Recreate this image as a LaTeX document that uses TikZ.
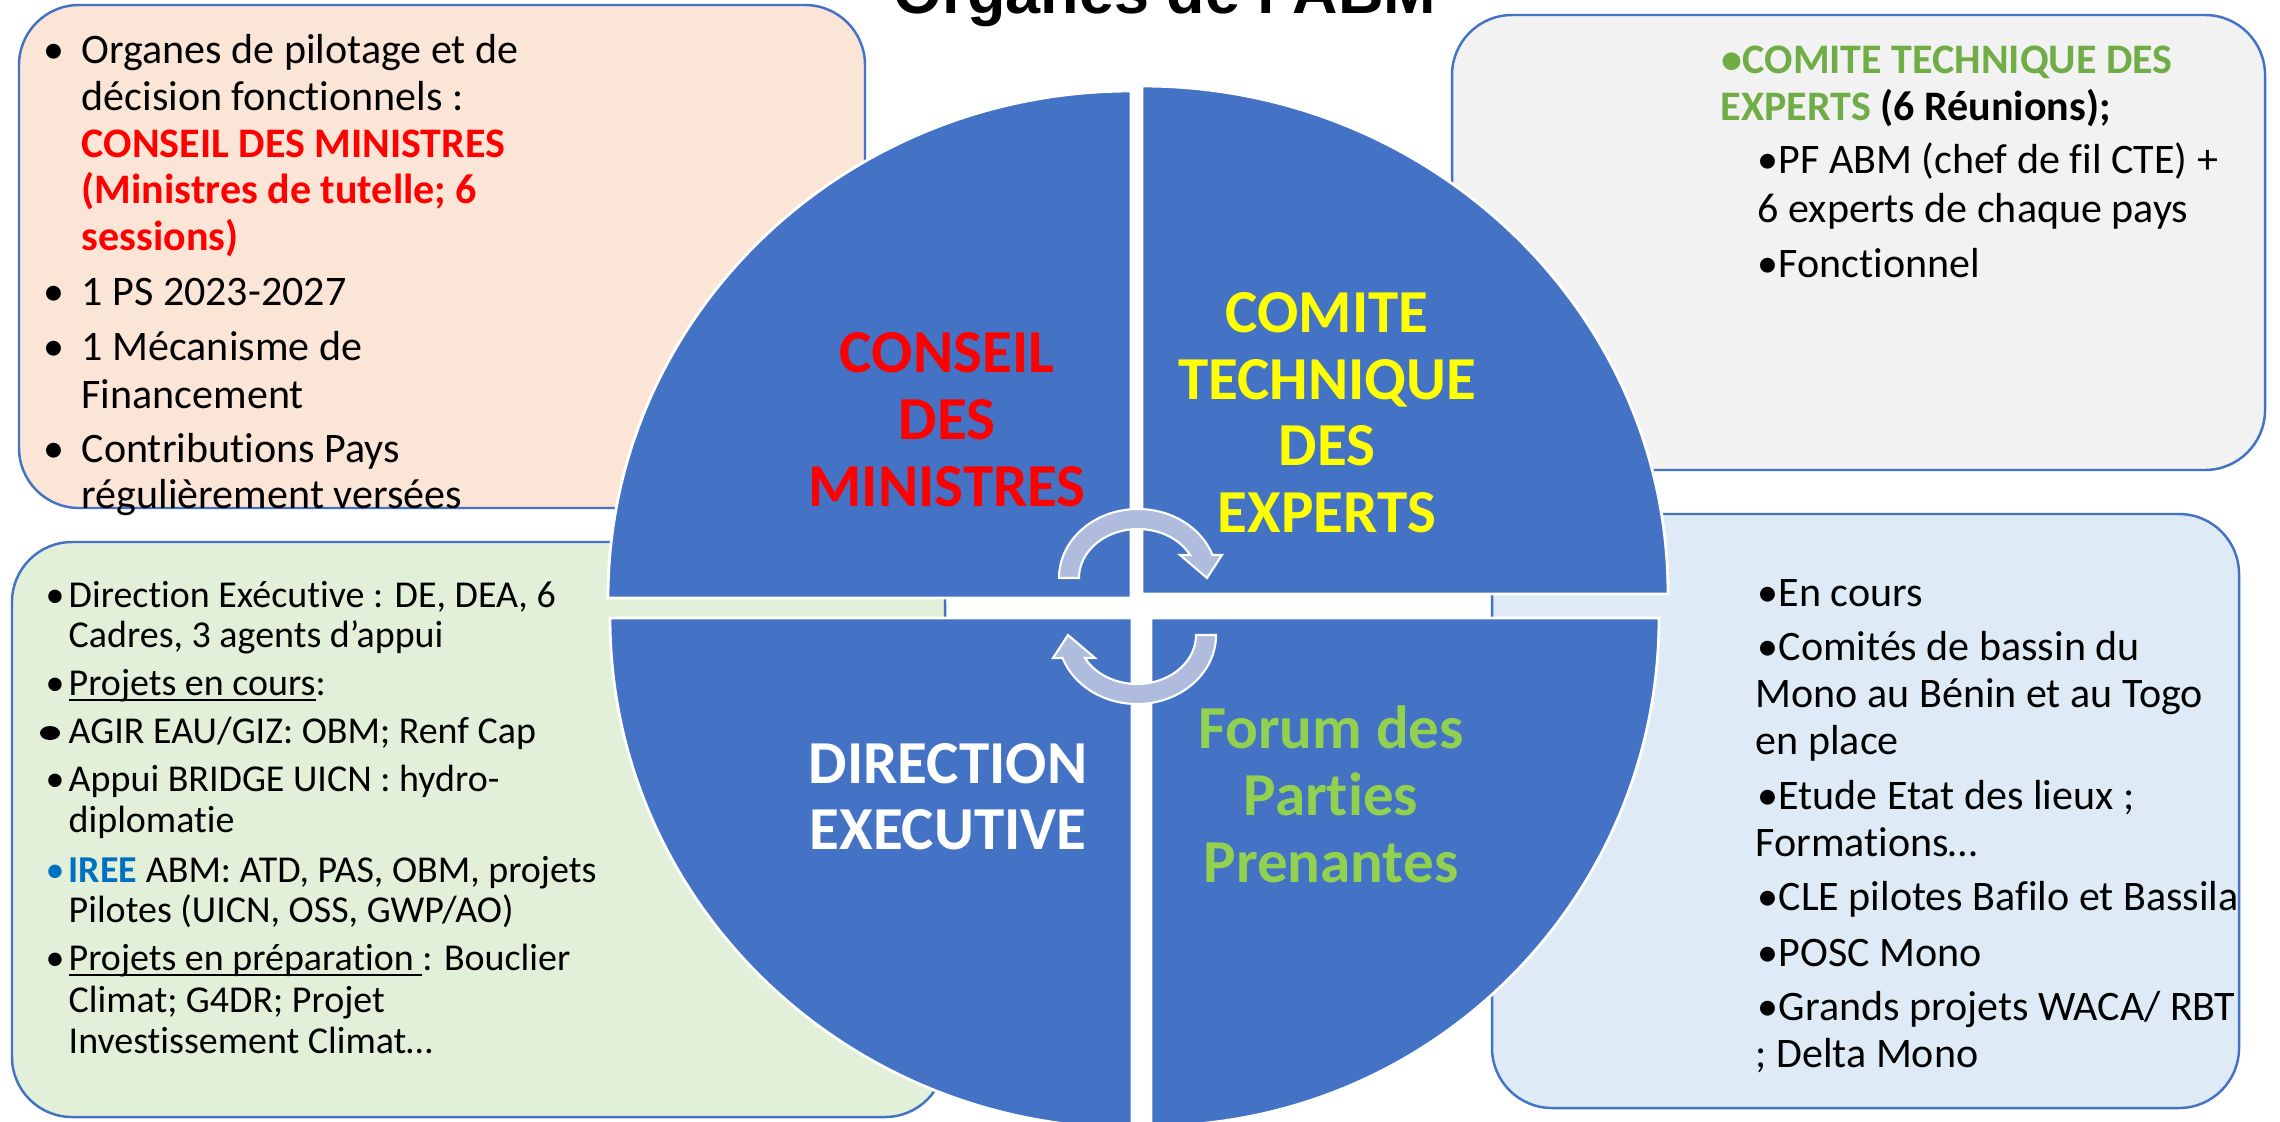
\documentclass[tikz,border=0pt]{standalone}
\usepackage{fontspec}
\setmainfont{Carlito}[Ligatures={NoCommon,NoContextual}]
\newfontfamily\titlefont{Liberation Sans}
\definecolor{quadblue}{HTML}{4472C4}
\definecolor{arrowfill}{RGB}{176,188,222}
\definecolor{boxline}{HTML}{4472C4}
\definecolor{peach}{HTML}{FBE5D6}
\definecolor{lgrey}{HTML}{F2F2F2}
\definecolor{lgreen}{HTML}{E2F0D9}
\definecolor{lblue}{HTML}{DEEBF7}
\definecolor{cteGreen}{HTML}{70AD47}
\definecolor{forumGreen}{HTML}{92D050}
\definecolor{ireeBlue}{HTML}{0070C0}
\definecolor{pureRed}{HTML}{FF0000}
\definecolor{pureYellow}{HTML}{FFFF00}
\newcommand\ulx[1]{\setbox0\hbox{#1}\rlap{\rule[-1.7pt]{\wd0}{0.55pt}}\box0}
\tikzset{
  infobox/.style={draw=boxline, line width=0.7pt, rounded corners=0.6cm},
  quad/.style={fill=quadblue, draw=white, line width=0.8pt},
  cyc/.style={fill=arrowfill, draw=white, line width=0.6pt},
  bigtxt/.style={anchor=base west, inner sep=0pt, font=\fontsize{11.95pt}{13pt}\selectfont},
  smalltxt/.style={anchor=base west, inner sep=0pt, font=\fontsize{10.8pt}{12pt}\selectfont},
  quadlbl/.style={anchor=base, inner sep=0pt, font=\bfseries\fontsize{17.36pt}{19pt}\selectfont},
}
\begin{document}
\begin{tikzpicture}[x=0.01cm,y=-0.01cm]
\clip (0,0) rectangle (2280,1121);
\fill[white] (0,0) rectangle (2280,1121);

% title (cut at the top)
\node[anchor=base, inner sep=0pt, font=\titlefont\bfseries\fontsize{17.9pt}{20pt}\selectfont] (title) at (1165,13) {Organes de l’ABM};

% info boxes
\draw[infobox, fill=peach] (19,5) rectangle (865,508);
\draw[infobox, fill=lgrey] (1452,15) rectangle (2265,470);
\draw[infobox, fill=lgreen] (12,542) rectangle (945,1117);
\draw[infobox, fill=lblue] (1492,514) rectangle (2239,1108);

% quadrants
\path[quad] (1131,598) -- (608,598) arc[start angle=180, end angle=270, x radius=523, y radius=507] -- cycle;
\path[quad] (1142,594) -- (1142,86) arc[start angle=270, end angle=360, x radius=526, y radius=508] -- cycle;
\path[quad] (1132,618) -- (1132,1128) arc[start angle=90, end angle=180, x radius=522, y radius=510] -- cycle;
\path[quad] (1151,618) -- (1659,618) arc[start angle=0, end angle=90, x radius=508, y radius=508] -- cycle;

% cycle arrows
\path[cyc] (1059,578) arc[start angle=180, end angle=340.53, x radius=79, y radius=69] -- (1222,555) -- (1207,578) -- (1180,555) -- (1190.1,555) arc[start angle=332.0, end angle=180, x radius=59, y radius=49] -- cycle;
\path[cyc] (1216,635) arc[start angle=0, end angle=160.53, x radius=79, y radius=69] -- (1053,658) -- (1068,635) -- (1095,658) -- (1084.9,658) arc[start angle=152.0, end angle=0, x radius=59, y radius=49] -- cycle;

% quadrant labels
\node[quadlbl, text=pureRed] (cm1) at (947,372) {CONSEIL};
\node[quadlbl, text=pureRed] (cm2) at (947,439) {DES};
\node[quadlbl, text=pureRed] (cm3) at (947,506) {MINISTRES};
\node[quadlbl, text=pureYellow] (ct1) at (1327,332) {COMITE};
\node[quadlbl, text=pureYellow] (ct2) at (1327,399) {TECHNIQUE};
\node[quadlbl, text=pureYellow] (ct3) at (1327,465) {DES};
\node[quadlbl, text=pureYellow] (ct4) at (1327,532) {EXPERTS};
\node[quadlbl, text=white] (de1) at (948,783) {DIRECTION};
\node[quadlbl, text=white] (de2) at (948,849) {EXECUTIVE};
\node[quadlbl, text=forumGreen] (fp1) at (1331,748) {Forum des};
\node[quadlbl, text=forumGreen] (fp2) at (1331,815) {Parties};
\node[quadlbl, text=forumGreen] (fp3) at (1331,882) {Prenantes};

% top-left box text
\node[bigtxt] (tlb1) at (43,63) {•};
\node[bigtxt] (tlb2) at (43,305) {•};
\node[bigtxt] (tlb3) at (43,360) {•};
\node[bigtxt] (tlb4) at (43,462) {•};
\node[bigtxt] (tl1) at (81,63) {Organes de pilotage et de};
\node[bigtxt] (tl2) at (81,110) {décision fonctionnels :};
\node[bigtxt, text=pureRed, font=\bfseries\fontsize{11.95pt}{13pt}\selectfont] (tl3) at (81,157) {CONSEIL DES MINISTRES};
\node[bigtxt, text=pureRed, font=\bfseries\fontsize{11.95pt}{13pt}\selectfont] (tl4) at (81,203) {(Ministres de tutelle; 6};
\node[bigtxt, text=pureRed, font=\bfseries\fontsize{11.95pt}{13pt}\selectfont] (tl5) at (81,250) {sessions)};
\node[bigtxt] (tl6) at (81,305) {1 PS 2023-2027};
\node[bigtxt] (tl7) at (81,360) {1 Mécanisme de};
\node[bigtxt] (tl8) at (81,408) {Financement};
\node[bigtxt] (tl9) at (81,462) {Contributions Pays};
\node[bigtxt] (tl10) at (81,508) {régulièrement versées};

% top-right box text
\node[bigtxt, text=cteGreen, font=\bfseries\fontsize{11.95pt}{13pt}\selectfont] (tr1) at (1721,73) {•COMITE TECHNIQUE DES};
\node[bigtxt, font=\bfseries\fontsize{11.95pt}{13pt}\selectfont] (tr2) at (1720,120) {\textcolor{cteGreen}{EXPERTS} (6 Réunions);};
\node[bigtxt] (tr3) at (1757,173) {•PF ABM (chef de fil CTE) +};
\node[bigtxt] (tr4) at (1757,222) {6 experts de chaque pays};
\node[bigtxt] (tr5) at (1757,277) {•Fonctionnel};

% bottom-right box text
\node[bigtxt] (br1) at (1757,606) {•En cours};
\node[bigtxt] (br2) at (1757,660) {•Comités de bassin du};
\node[bigtxt] (br3) at (1755,707) {Mono au Bénin et au Togo};
\node[bigtxt] (br4) at (1755,754) {en place};
\node[bigtxt] (br5) at (1757,809) {•Etude Etat des lieux ;};
\node[bigtxt] (br6) at (1755,856) {Formations…};
\node[bigtxt] (br7) at (1757,910) {•CLE pilotes Bafilo et Bassila};
\node[bigtxt] (br8) at (1757,966) {•POSC Mono};
\node[bigtxt] (br9) at (1757,1020) {•Grands projets WACA/ RBT};
\node[bigtxt] (br10) at (1755,1067) {; Delta Mono};

% bottom-left box text
\node[smalltxt] (blb1) at (45,607) {•};
\node[smalltxt] (blb2) at (45,695) {•};
\fill (50,733) ellipse[x radius=10, y radius=7];
\node[smalltxt] (blb4) at (45,791) {•};
\node[smalltxt, text=ireeBlue] (blb5) at (45,882) {•};
\node[smalltxt] (blb6) at (45,970) {•};
\node[smalltxt] (bl1) at (68,607) {Direction Exécutive : DE, DEA, 6};
\node[smalltxt] (bl2) at (68,647) {Cadres, 3 agents d’appui};
\node[smalltxt] (bl3) at (68,695) {\ulx{Projets en cours}:};
\node[smalltxt] (bl4) at (68,743) {AGIR EAU/GIZ: OBM; Renf Cap};
\node[smalltxt] (bl5) at (68,791) {Appui BRIDGE UICN : hydro-};
\node[smalltxt] (bl6) at (68,832) {diplomatie};
\node[smalltxt] (bl7) at (68,882) {\textcolor{ireeBlue}{\bfseries IREE} ABM: ATD, PAS, OBM, projets};
\node[smalltxt] (bl8) at (68,922) {Pilotes (UICN, OSS, GWP/AO)};
\node[smalltxt] (bl9) at (68,970) {\ulx{Projets en préparation }: Bouclier};
\node[smalltxt] (bl10) at (68,1012) {Climat; G4DR; Projet};
\node[smalltxt] (bl11) at (68,1053) {Investissement Climat…};
\end{tikzpicture}
\end{document}
